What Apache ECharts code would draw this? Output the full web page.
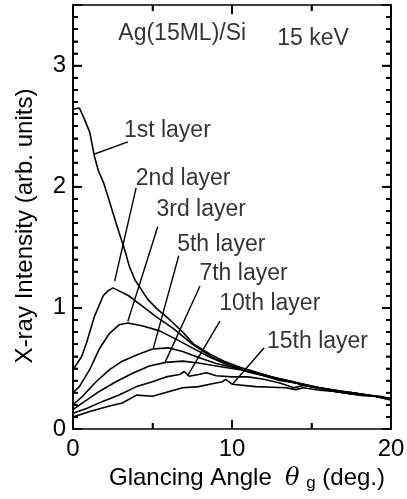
<!DOCTYPE html>
<html>
<head>
<meta charset="utf-8">
<script src="https://cdn.jsdelivr.net/npm/echarts@6/dist/echarts.min.js"></script>
<style>
html, body { margin: 0; padding: 0; background: #fff; }
#main { width: 407px; height: 499px; }
</style>
</head>
<body>
<div id="main"></div>
<script>
// curves: [angle (deg), intensity]
const layer1 = [[0,2.64],[0.4,2.65],[0.75,2.55],[1.05,2.45],[1.35,2.25],[1.6,2.13],[1.9,2.04],[2.2,1.92],[2.5,1.79],[2.9,1.62],[3.25,1.48],[3.55,1.34],[3.9,1.23],[4.3,1.15],[4.7,1.07],[5.3,0.99],[6.1,0.9],[6.9,0.8],[7.6,0.7],[8.6,0.62],[9.5,0.56],[10.5,0.51],[11.5,0.47],[12.5,0.43],[13.5,0.4],[14.5,0.37],[15.5,0.34],[16.5,0.31],[17.5,0.3],[18.5,0.28],[19.3,0.27],[20,0.25]]
const layer2 = [[0,0.49],[0.4,0.57],[0.55,0.6],[0.85,0.71],[1.35,0.93],[1.9,1.1],[2.2,1.14],[2.5,1.165],[2.9,1.14],[3.5,1.1],[3.8,1.07],[4.4,1.01],[5.2,0.93],[6.3,0.83],[7.5,0.7],[8.8,0.59],[10,0.52],[11,0.47],[12,0.44],[13,0.41],[14,0.38],[15,0.35],[16,0.32],[17,0.3],[18,0.28],[19,0.27],[20,0.25]]
const layer3 = [[0,0.3],[0.4,0.35],[1.05,0.49],[1.65,0.66],[2.3,0.79],[2.9,0.86],[3.45,0.875],[4.4,0.85],[5.45,0.81],[6.5,0.74],[7.5,0.67],[8.5,0.6],[9.5,0.54],[10.5,0.5],[11.5,0.46],[12.5,0.43],[13.5,0.4],[14.5,0.37],[15.5,0.34],[16.5,0.32],[17.5,0.3],[18.5,0.28],[19.5,0.26],[20,0.25]]
const layer5 = [[0,0.2],[0.6,0.27],[1.45,0.39],[2.3,0.49],[3.1,0.56],[4,0.61],[5,0.66],[6,0.67],[6.9,0.64],[7.9,0.59],[9,0.54],[10,0.51],[11,0.48],[12,0.44],[13,0.4],[14,0.38],[15,0.35],[16,0.32],[17,0.3],[18,0.29],[19,0.27],[20,0.24]]
const layer7 = [[0,0.16],[0.6,0.215],[1.65,0.31],[2.7,0.39],[3.75,0.46],[4.8,0.52],[5.85,0.55],[6.9,0.56],[7.9,0.545],[9,0.52],[10,0.5],[11,0.48],[12,0.45],[13,0.41],[14,0.38],[15,0.35],[16,0.33],[17,0.31],[18,0.29],[19,0.27],[20,0.25]]
const layer10 = [[0,0.13],[0.85,0.17],[1.9,0.23],[2.9,0.28],[4,0.35],[5,0.39],[5.85,0.43],[6.7,0.45],[7,0.475],[7.3,0.435],[7.9,0.45],[8.4,0.465],[9,0.44],[10,0.43],[11,0.43],[12,0.41],[13,0.38],[13.9,0.34],[14.5,0.36],[15,0.35],[16,0.33],[17,0.3],[18,0.28],[19,0.27],[20,0.24]]
const layer15 = [[0,0.1],[1.05,0.145],[2.3,0.19],[3.1,0.215],[4,0.28],[5,0.27],[6.05,0.31],[6.9,0.34],[7.9,0.35],[8.6,0.37],[9.4,0.39],[9.6,0.41],[10,0.37],[11.5,0.35],[12.5,0.345],[13.4,0.34],[14,0.325],[14.5,0.34],[15.5,0.32],[16.5,0.31],[17.5,0.29],[18.5,0.28],[19.5,0.26],[20,0.25]]

const layerNames = ['1st layer','2nd layer','3rd layer','5th layer','7th layer','10th layer','15th layer']
// leader lines (from curve to label) and label anchors, in data units
const leaderFrom = [[1.36,2.27],[2.62,1.22],[3.45,0.89],[5.06,0.67],[5.79,0.55],[7.21,0.44],[10.03,0.37]]
const leaderTo = [[3.45,2.37],[3.97,1.99],[5.33,1.67],[6.65,1.43],[7.99,1.18],[9.24,0.89],[12.02,0.67]]
const labelAt = [[3.2,2.46],[3.95,2.07],[5.25,1.81],[6.55,1.52],[7.95,1.28],[9.2,1.035],[12.2,0.72]]
const notes = [['Ag(15ML)/Si',2.85,3.26],['15 keV',12.85,3.22]]

const xTicks = { min: 0, max: 20, interval: 10 }
const yTicks = { min: 0, max: 3.5, interval: 1, minor: 0.1 }
// tick marks on the frame (drawn on all four sides)
const xMajorTicks = [10]
const xMinorTicks = [5, 15]
const yMajorTicks = [1, 2, 3]
const yMinorTicks = [0.1,0.2,0.3,0.4,0.5,0.6,0.7,0.8,0.9,1.1,1.2,1.3,1.4,1.5,1.6,1.7,1.8,1.9,2.1,2.2,2.3,2.4,2.5,2.6,2.7,2.8,2.9,3.1,3.2,3.3,3.4]

const font = 'Liberation Sans, Arial, Helvetica, sans-serif'
const curves = [layer1, layer2, layer3, layer5, layer7, layer10, layer15]

let myChart = echarts.init(document.getElementById('main'))

let series = curves.map((d, i) => ({
    name: layerNames[i],
    type: 'line',
    data: d,
    symbol: 'none',
    lineStyle: { color: '#000', width: 1.6 },
    z: 3,
    markLine: {
        silent: true,
        symbol: 'none',
        label: { show: false },
        lineStyle: { color: '#000', width: 1.4, type: 'solid' },
        data: [[{ coord: leaderFrom[i] }, { coord: leaderTo[i] }]]
    }
}))

series.push({
    type: 'scatter',
    symbolSize: 0,
    silent: true,
    data: labelAt.map((p, i) => ({ value: p, name: layerNames[i] })).concat(
        notes.map(n => ({ value: [n[1], n[2]], name: n[0] }))
    ),
    label: {
        show: true,
        position: 'right',
        distance: 0,
        formatter: p => p.name,
        color: '#000',
        fontSize: 23,
        fontFamily: font
    }
})

// [kind (0 = x, 1 = y), value, length in px]
let tickData = xMajorTicks.map(v => [0, v, 9])
    .concat(xMinorTicks.map(v => [0, v, 6]))
    .concat(yMajorTicks.map(v => [1, v, 9]))
    .concat(yMinorTicks.map(v => [1, v, 5]))

series.push({
    type: 'custom',
    silent: true,
    z: 4,
    data: tickData,
    renderItem: function (params, api) {
        let kind = api.value(0)
        let v = api.value(1)
        let len = api.value(2)
        let style = { stroke: '#000', lineWidth: 1.6 }
        let a, b
        if (kind === 0) {
            a = api.coord([v, yTicks.min])
            b = api.coord([v, yTicks.max])
            return {
                type: 'group',
                children: [
                    { type: 'line', shape: { x1: a[0], y1: a[1], x2: a[0], y2: a[1] - len }, style: style },
                    { type: 'line', shape: { x1: b[0], y1: b[1], x2: b[0], y2: b[1] + len }, style: style }
                ]
            }
        }
        a = api.coord([xTicks.min, v])
        b = api.coord([xTicks.max, v])
        return {
            type: 'group',
            children: [
                { type: 'line', shape: { x1: a[0], y1: a[1], x2: a[0] + len, y2: a[1] }, style: style },
                { type: 'line', shape: { x1: b[0], y1: b[1], x2: b[0] - len, y2: b[1] }, style: style }
            ]
        }
    }
})

function ls() {
    return { color: '#000', width: 1.6, type: 'solid' }
}

function xAx(pos, showLabel) {
    return {
        type: 'value',
        position: pos,
        min: xTicks.min, max: xTicks.max, interval: xTicks.interval,
        axisLine: { show: true, onZero: false, lineStyle: ls() },
        axisTick: { show: true, inside: true, length: 9, lineStyle: ls() },
        minorTick: { show: true, splitNumber: 2, length: 6, lineStyle: ls() },
        axisLabel: { show: showLabel, margin: 12, lineHeight: 16, color: '#000', fontSize: 24, fontFamily: font },
        splitLine: { show: false }
    }
}

function yAx(pos, major) {
    return {
        type: 'value',
        position: pos,
        min: yTicks.min, max: yTicks.max,
        interval: major ? yTicks.interval : yTicks.minor,
        axisLine: { show: true, onZero: false, lineStyle: ls() },
        axisTick: { show: true, inside: true, length: major ? 9 : 5, lineStyle: ls() },
        axisLabel: {
            show: major && pos === 'left',
            margin: 7,
            lineHeight: 16,
            color: '#000', fontSize: 24, fontFamily: font,
            formatter: v => (v % 1 === 0 ? String(v) : '')
        },
        splitLine: { show: false }
    }
}

let yLeft = yAx('left', true)
yLeft.name = 'X-ray Intensity (arb. units){sp| }'
yLeft.nameLocation = 'middle'
yLeft.nameGap = 36
yLeft.nameTextStyle = {
    color: '#000', fontSize: 24, fontFamily: font,
    rich: { sp: { width: 18 } }
}

let xBottom = xAx('bottom', true)
xBottom.name = '{sp| }Glancing Angle  {th|θ} {sub|g} (deg.)'
xBottom.nameLocation = 'middle'
xBottom.nameGap = 36
xBottom.nameTextStyle = {
    color: '#000', fontSize: 24, fontFamily: font,
    rich: {
        sp: { width: 30 },
        th: { fontSize: 24, fontStyle: 'italic', fontFamily: 'DejaVu Serif, serif', color: '#000' },
        sub: { fontSize: 17, fontFamily: font, color: '#000', padding: [10, 0, 0, 0] }
    }
}

let option = {
    animation: false,
    grid: { left: 73, right: 16, top: 5, bottom: 70, outerBoundsMode: 'none' },
    xAxis: [xBottom, xAx('top', false)],
    yAxis: [yLeft, yAx('left', false), yAx('right', true), yAx('right', false)],
    series: series
}
myChart.setOption(option)
</script>
</body>
</html>
